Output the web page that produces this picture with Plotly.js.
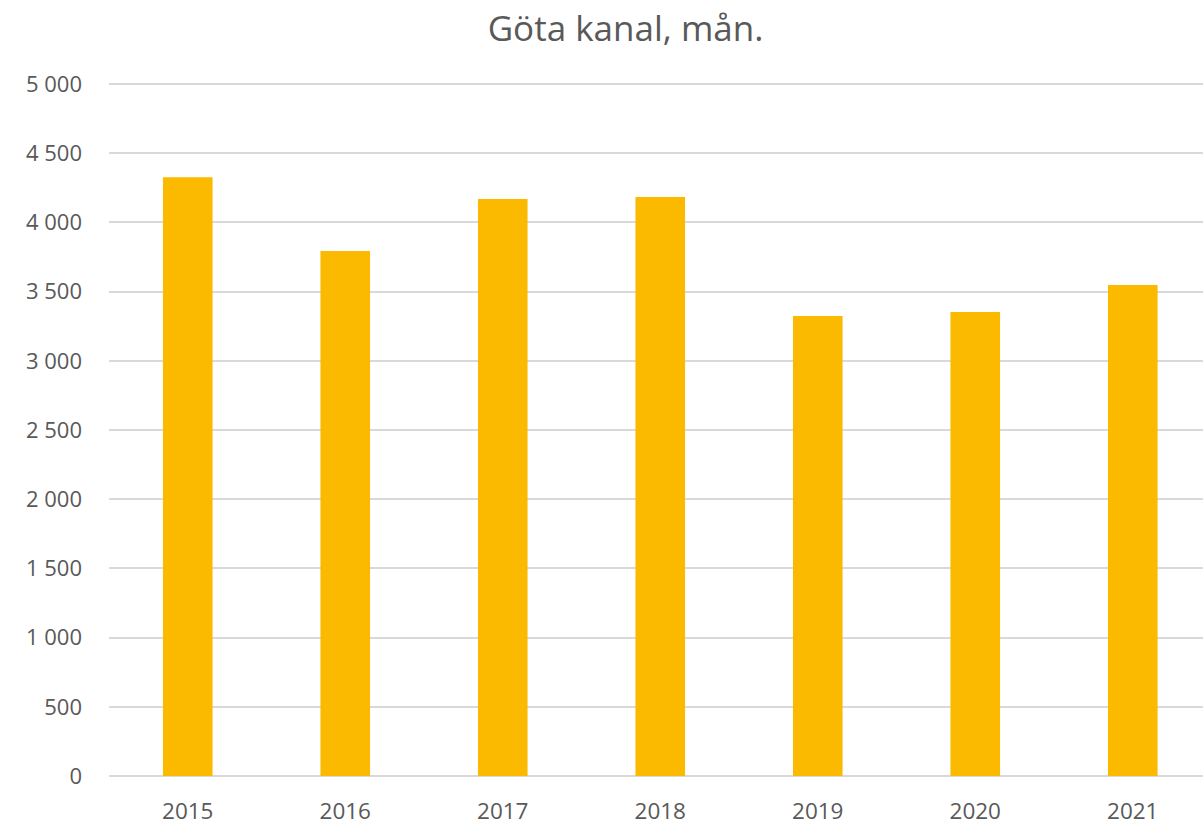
<!DOCTYPE html>
<html>
<head>
<meta charset="utf-8">
<script src="https://cdn.plot.ly/plotly-3.0.1.min.js"></script>
<style>html,body{margin:0;padding:0;background:#fff;}#chart{width:1203px;height:827px;}</style>
</head>
<body>
<div id="chart"></div>
<script>
const years = ["2015", "2016", "2017", "2018", "2019", "2020", "2021"];
const values = [4326, 3794, 4169, 4184, 3324, 3353, 3548];
const yTicks = [0, 500, 1000, 1500, 2000, 2500, 3000, 3500, 4000, 4500, 5000];
const chartTitle = "Göta kanal, mån.";

const font = "'Open Sans', 'Noto Sans', sans-serif";
Plotly.newPlot("chart", [{
  type: "bar",
  x: years,
  y: values,
  marker: {color: "#FBBA00"},
  hoverinfo: "x+y"
}], {
  width: 1203, height: 827,
  margin: {l: 109, r: 0, t: 82, b: 51},
  paper_bgcolor: "#fff", plot_bgcolor: "#fff",
  separators: ", ",
  bargap: 0.685,
  showlegend: false,
  title: {text: chartTitle, x: 0.52, xanchor: "center", y: 0.965, yanchor: "middle",
          font: {family: font, size: 35, color: "#595959"}},
  xaxis: {type: "category", range: [-0.5, 6.446], showgrid: false, zeroline: false,
          showline: false, ticks: "",
          ticklabelstandoff: 19,
          tickfont: {family: font, size: 22.5, color: "#595959"}},
  yaxis: {range: [0, 5014.4], tickvals: yTicks, tickformat: ",d", showgrid: true,
          gridcolor: "#d9d9d9", gridwidth: 2, zeroline: true, zerolinecolor: "#d9d9d9",
          zerolinewidth: 2, showline: false, ticks: "", ticklabelstandoff: 26,
          tickfont: {family: font, size: 22, color: "#595959"}}
}, {displayModeBar: false, staticPlot: true});
</script>
</body>
</html>
